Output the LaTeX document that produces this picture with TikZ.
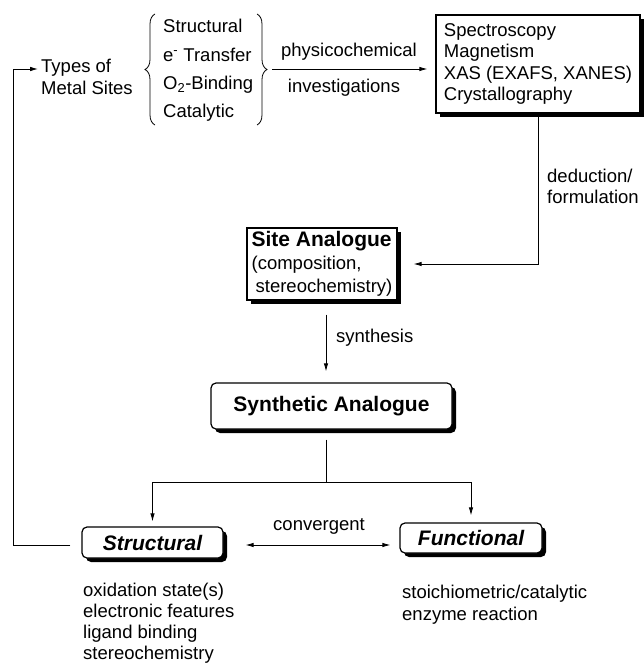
\documentclass[tikz,border=0pt]{standalone}
\usepackage{fontspec}
\setmainfont{Liberation Sans}
\usetikzlibrary{arrows.meta,decorations.pathreplacing,shadows,calc}
\begin{document}
\begin{tikzpicture}[x=1pt,y=-1pt,
  every node/.style={font=\fontsize{18.5}{21.5}\selectfont, inner sep=0pt},
  conn/.style={line width=0.8pt},
  arr/.style={conn,-{Latex[length=8pt,width=4.5pt]}},
  dblarr/.style={conn,{Latex[length=8pt,width=4.5pt]}-{Latex[length=8pt,width=4.5pt]}},
  shad/.style={drop shadow={shadow xshift=4pt, shadow yshift=-4pt, fill=black, opacity=1}},
  sqbox/.style={draw,line width=1.2pt,fill=white,shad},
  rdbox/.style={draw,line width=1.2pt,fill=white,rounded corners=5pt,shad},
  titlefont/.style={font=\fontsize{21}{24}\selectfont\bfseries},
  brace/.style={line width=0.8pt,decorate,decoration={brace,amplitude=10pt}},
  txt/.style={anchor=west, align=left},
]
\useasboundingbox (0,0) rectangle (644,664);

% nodes
\node[txt] (types) at (41,77) {Types of\\[0.5pt]Metal Sites};
\node[txt, font=\fontsize{18.5}{28.3}\selectfont] (list) at (163,70.5)
  {Structural\\e\textsuperscript{-} Transfer\\O\textsubscript{2}-Binding\\Catalytic};
\node[sqbox, minimum width=204pt, minimum height=98pt, align=left] (spec) at (538,64)
  {Spectroscopy\\Magnetism\\XAS (EXAFS, XANES)\\Crystallography};
\node[sqbox, minimum width=150pt, minimum height=72pt, align=left,
      font=\fontsize{18.5}{23}\selectfont] (site) at (322,264)
  {{\fontsize{21}{23}\selectfont\bfseries Site Analogue}\\(composition,\\\hspace*{4pt}stereochemistry)};
\node[rdbox, minimum width=241pt, minimum height=46pt, titlefont] (synth) at (331.5,406) {Synthetic Analogue};
\node[rdbox, minimum width=141pt, minimum height=31pt, font=\fontsize{21}{24}\selectfont\bfseries\itshape] (struct) at (152.5,542.5) {Structural};
\node[rdbox, minimum width=142pt, minimum height=30pt, font=\fontsize{21}{24}\selectfont\bfseries\itshape] (func) at (471,538) {Functional};

% labels
\node (phys) at (349,52) {physicochemical};
\node (inv) at (344,88) {investigations};
\node[txt] (ded) at (547,186.5) {deduction/\\formulation};
\node[txt] (synl) at (336,338) {synthesis};
\node (conv) at (319,526) {convergent};
\node[txt, font=\fontsize{18.5}{21}\selectfont] (structlist) at (83,623.5) {oxidation state(s)\\electronic features\\ligand binding\\stereochemistry};
\node[txt] (funclist) at (402,604.5) {stoichiometric/catalytic\\enzyme reaction};

% braces
\draw[brace] (155,125) -- (155,14);
\draw[brace] (257,14) -- (257,125);

% coordinates
\coordinate (pcstart) at (272,69);
\coordinate (synx) at (326,0);
\coordinate (split) at (326,482);
\coordinate (cvl) at (0,545);
\coordinate (fbcorner) at (13,545);
\coordinate (typesin) at (38,69);

% connectors
\draw[arr, shorten >=8pt] (pcstart) -- (spec.west |- pcstart);
\draw[arr, shorten >=16pt] (spec.south) |- (site.east);
\draw[arr, shorten <=14pt, shorten >=11pt] (site.south -| synx) -- (synth.north -| synx);
\draw[conn, shorten <=10pt] (synth.south -| synx) -- (split);
\draw[arr, shorten >=5pt] (split) -| (struct.north);
\draw[arr, shorten >=7pt] (split) -| (func.north);
\draw[dblarr, shorten <=22pt, shorten >=9pt] (struct.east |- cvl) -- (func.west |- cvl);
\draw[arr, shorten <=11pt] (struct.west |- fbcorner) -- (fbcorner) |- (typesin);
\end{tikzpicture}
\end{document}
